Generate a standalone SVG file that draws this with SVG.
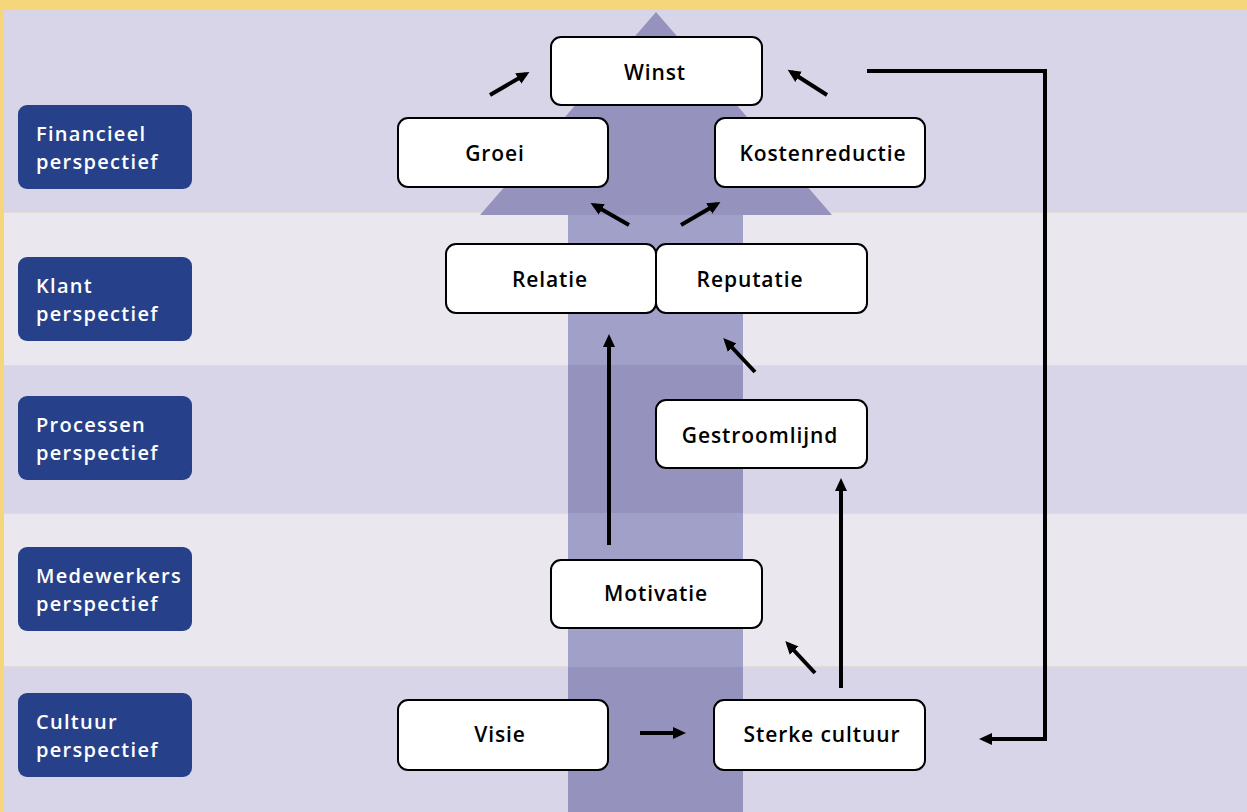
<svg xmlns="http://www.w3.org/2000/svg" width="1247" height="812" viewBox="0 0 1247 812">
<defs>
<style>
.lbl rect{fill:#26418a;}
.lbl text{fill:#ffffff;font-family:"Open Sans","Noto Sans",sans-serif;font-weight:600;font-size:20px;letter-spacing:1.3px;}
.node rect{fill:#ffffff;stroke:#000000;stroke-width:2;}
.node text{fill:#000000;font-family:"Open Sans","Noto Sans",sans-serif;font-weight:600;font-size:21px;letter-spacing:0.9px;text-anchor:middle;}
.conn path{fill:none;stroke:#000000;stroke-width:4;marker-end:url(#ah);}
</style>
<marker id="ah" markerUnits="userSpaceOnUse" markerWidth="14" markerHeight="14" viewBox="0 0 14 14" refX="9" refY="7" orient="auto">
<path d="M0,1 L13,7 L0,13 z" fill="#000000"/>
</marker>
</defs>
<rect x="0" y="0" width="1247" height="812" fill="#f5d67a"/>
<rect x="4" y="10" width="1243" height="202" fill="#d8d5e8"/>
<rect x="4" y="212" width="1243" height="153" fill="#eae7ef"/>
<rect x="4" y="365" width="1243" height="148" fill="#d8d5e8"/>
<rect x="4" y="513" width="1243" height="154" fill="#eae7ef"/>
<rect x="4" y="667" width="1243" height="145" fill="#d8d5e8"/>
<g stroke="#e2dad4" stroke-width="1">
<line x1="4" y1="212.5" x2="1247" y2="212.5"/>
<line x1="4" y1="365.5" x2="1247" y2="365.5"/>
<line x1="4" y1="513.5" x2="1247" y2="513.5"/>
<line x1="4" y1="666.5" x2="1247" y2="666.5"/>
</g>
<g id="bigarrow">
<polygon points="656,12 832,215 480,215" fill="#9593bd"/>
<rect x="568" y="212" width="175" height="153" fill="#a1a0c8"/>
<rect x="568" y="365" width="175" height="148" fill="#9593bd"/>
<rect x="568" y="513" width="175" height="154" fill="#a1a0c8"/>
<rect x="568" y="667" width="175" height="145" fill="#9593bd"/>
<rect x="568" y="212" width="175" height="3" fill="#9593bd"/>
</g>
<g id="label-financieel" class="lbl"><rect x="18" y="105" width="174" height="84" rx="9"/><text x="36" y="141">Financieel</text><text x="36" y="169">perspectief</text></g>
<g id="label-klant" class="lbl"><rect x="18" y="257" width="174" height="84" rx="9"/><text x="36" y="293">Klant</text><text x="36" y="321">perspectief</text></g>
<g id="label-processen" class="lbl"><rect x="18" y="396" width="174" height="84" rx="9"/><text x="36" y="432">Processen</text><text x="36" y="460">perspectief</text></g>
<g id="label-medewerkers" class="lbl"><rect x="18" y="547" width="174" height="84" rx="9"/><text x="36" y="583">Medewerkers</text><text x="36" y="611">perspectief</text></g>
<g id="label-cultuur" class="lbl"><rect x="18" y="693" width="174" height="84" rx="9"/><text x="36" y="729">Cultuur</text><text x="36" y="757">perspectief</text></g>
<g id="connectors" class="conn">
<path d="M490,95 L526,74"/>
<path d="M827,95 L791,72"/>
<path d="M629,225 L594,205"/>
<path d="M681,225 L717,204"/>
<path d="M609,545 L609,338"/>
<path d="M755,372 L726,341"/>
<path d="M841,688 L841,482"/>
<path d="M815,673 L788,644"/>
<path d="M640,733 L682,733"/>
<path d="M867,71 L1045,71 L1045,739 L983,739"/>
</g>
<g id="node-winst" class="node"><rect x="551" y="37" width="211" height="68" rx="10"/><text x="655" y="80">Winst</text></g>
<g id="node-groei" class="node"><rect x="398" y="118" width="210" height="69" rx="10"/><text x="495" y="161">Groei</text></g>
<g id="node-kostenreductie" class="node"><rect x="715" y="118" width="210" height="69" rx="10"/><text x="823" y="161">Kostenreductie</text></g>
<g id="node-relatie" class="node"><rect x="446" y="244" width="210" height="69" rx="10"/><text x="550" y="287">Relatie</text></g>
<g id="node-reputatie" class="node"><rect x="656" y="244" width="211" height="69" rx="10"/><text x="750" y="287">Reputatie</text></g>
<g id="node-gestroomlijnd" class="node"><rect x="656" y="400" width="211" height="68" rx="10"/><text x="760" y="443">Gestroomlijnd</text></g>
<g id="node-motivatie" class="node"><rect x="551" y="560" width="211" height="68" rx="10"/><text x="656" y="601">Motivatie</text></g>
<g id="node-visie" class="node"><rect x="398" y="700" width="210" height="70" rx="10"/><text x="500" y="742">Visie</text></g>
<g id="node-sterke" class="node"><rect x="714" y="700" width="211" height="70" rx="10"/><text x="822" y="742">Sterke cultuur</text></g>
</svg>
